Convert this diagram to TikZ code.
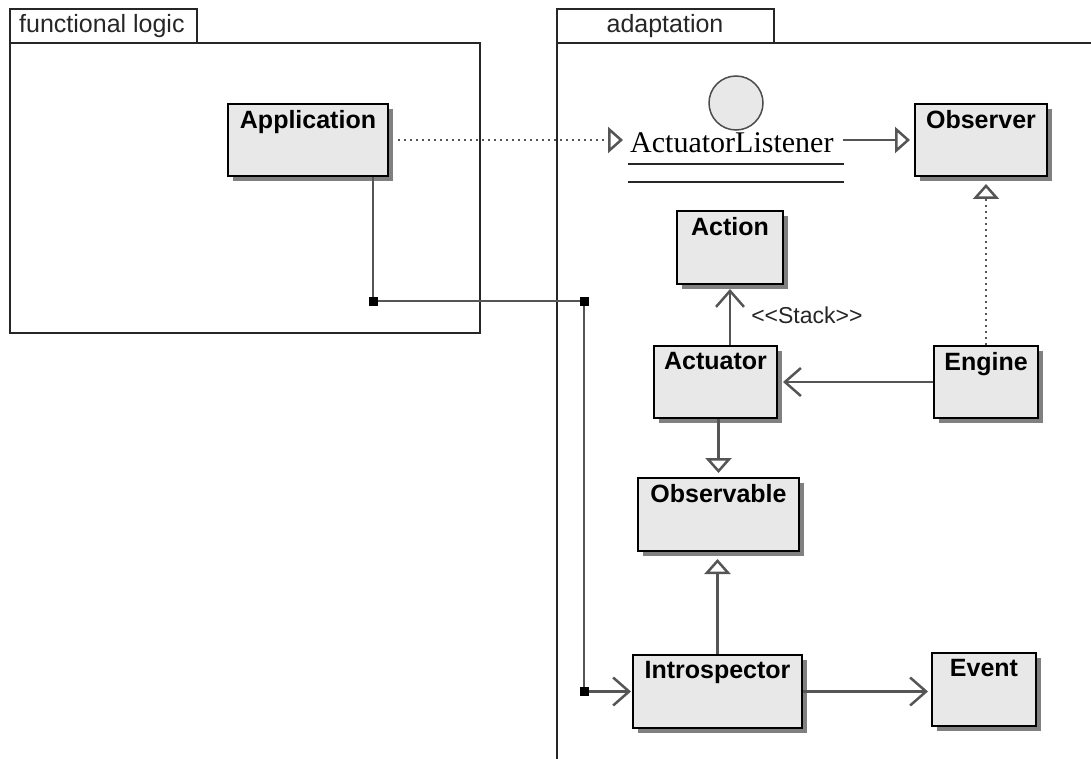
\documentclass[tikz,border=0pt]{standalone}
\usepackage{fontspec}
\setmainfont{Liberation Sans}
\newfontfamily\ifacefont{Liberation Serif}
\usetikzlibrary{arrows.meta}
\usetikzlibrary{shadows}
\usetikzlibrary{positioning}
\definecolor{classfill}{HTML}{E8E8E8}
\definecolor{linkgray}{HTML}{555555}
\tikzset{
	class_box/.style = {
		rectangle,
		draw=black,
		fill=classfill,
		line width=2pt,
		anchor=north west,
		inner sep=0pt,
		drop shadow={shadow xshift=5pt, shadow yshift=-5pt, fill=black!50, opacity=1}
	},
	class_name/.style = {
		anchor=north,
		inner sep=0pt,
		yshift=-7pt,
		font=\fontsize{25}{28}\selectfont\bfseries
	},
	iface_circle/.style = {
		circle,
		draw=black!70,
		fill=classfill,
		line width=1.5pt,
		inner sep=0pt,
		minimum size=54pt
	},
	iface_name/.style = {
		inner sep=0pt,
		font=\fontsize{30}{33}\selectfont\ifacefont
	},
	pkg_line/.style = {
		draw=black!85,
		line width=2pt
	},
	pkg_name/.style = {
		inner sep=0pt,
		black!85,
		font=\fontsize{25}{28}\selectfont
	},
	stack_note/.style = {
		inner sep=0pt,
		black!85,
		font=\fontsize{23}{26}\selectfont
	},
	link/.style = {
		draw=linkgray,
		line width=2.5pt
	},
	assoc/.style = {
		link,
		-{Straight Barb[length=16pt, width=28pt]},
		shorten >=4pt
	},
	gen/.style = {
		link,
		-{Triangle[open, length=15pt, width=26pt]},
		shorten >=4pt
	},
	realize/.style = {
		gen,
		dash pattern=on 2pt off 4pt
	},
	joint/.style = {
		rectangle,
		fill=black,
		inner sep=0pt,
		minimum size=9pt
	},
}

\begin{document}
\begin{tikzpicture}[x=1pt, y=-1pt]
\useasboundingbox (0,0) rectangle (1091,759);

% packages
\draw[pkg_line] (10,43) rectangle (197,9);
\draw[pkg_line] (10,43) rectangle (480,333);
\node[pkg_name, anchor=base west] (pkg_func) at (19,33) {functional logic};
\draw[pkg_line] (557,43) rectangle (774,9);
\draw[pkg_line] (557,765) -- (557,43) -- (1095,43);
\node[pkg_name, anchor=base] (pkg_adapt) at (665,33) {adaptation};

% classes
\node[class_box, minimum width=160pt, minimum height=72pt, label={[class_name]north:Application}] (app) at (227,103) {};
\node[class_box, minimum width=132pt, minimum height=72pt, label={[class_name]north:Observer}] (obs) at (914,103) {};
\node[class_box, minimum width=106pt, minimum height=73pt, label={[class_name]north:Action}] (action) at (676,210) {};
\node[class_box, minimum width=123pt, minimum height=72pt, label={[class_name]north:Actuator}] (actr) at (653,345) {};
\node[class_box, minimum width=104pt, minimum height=72pt, label={[class_name]north:Engine}] (eng) at (933,345) {};
\node[class_box, minimum width=161pt, minimum height=73pt, label={[class_name]north:Observable}] (obsv) at (637,477) {};
\node[class_box, minimum width=169pt, minimum height=73pt, label={[class_name]north:Introspector}] (intro) at (632,654) {};
\node[class_box, minimum width=104pt, minimum height=73pt, label={[class_name]north:Event}] (event) at (931,652) {};

% interface
\node[iface_circle] (iface) at (736,103) {};
\node[iface_name, anchor=base west] (listener) at (630,153) {ActuatorListener};
\draw[pkg_line] (628,164) -- (844,164);
\draw[pkg_line] (628,182) -- (844,182);

% links
\draw[realize, shorten <=9pt, shorten >=7pt] (app.east) -- (app.east -| listener.west);
\draw[gen, shorten <=9pt] (listener.east |- obs.west) -- (obs.west);
\draw[assoc] (action.south |- actr.north) -- node[right=20pt, stack_note] (stack) {{<}{<}Stack{>}{>}} (action.south);
\draw[assoc, shorten >=5pt] (eng.west) -- (actr.east);
\draw[realize, shorten >=7pt] (eng.north) -- (eng.north |- obs.south);
\draw[gen] (obsv.north |- actr.south) -- (obsv.north);
\draw[gen, shorten >=7pt] (intro.north) -- (intro.north |- obsv.south);
\draw[assoc, shorten >=3pt] (intro.east) -- (intro.east -| event.west);

% application to introspector
\coordinate (bend_a) at (373,301);
\coordinate (bend_b) at (584,301);
\coordinate (bend_c) at (bend_b |- intro.west);
\draw[assoc, shorten >=1pt] (bend_a |- app.south) -- (bend_a) -- (bend_b) -- (bend_c) -- (intro.west);
\node[joint] (joint_a) at (bend_a) {};
\node[joint] (joint_b) at (bend_b) {};
\node[joint] (joint_c) at (bend_c) {};
\end{tikzpicture}
\end{document}
